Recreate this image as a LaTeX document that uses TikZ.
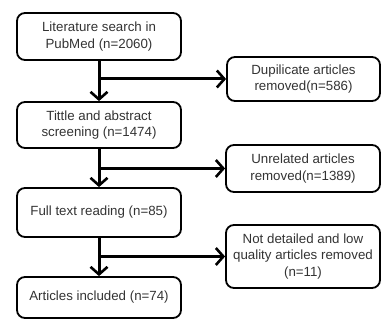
\documentclass[tikz,border=0pt]{standalone}
\usepackage{fontspec}
\setmainfont{Liberation Sans}
\usetikzlibrary{arrows.meta}
\begin{document}
\begin{tikzpicture}[x=1pt,y=1pt,
  box/.style={draw=black,line width=1.8pt,rounded corners=8pt,align=center,inner sep=0pt,
    font=\fontsize{13.3}{16.5}\selectfont,text=black!80},
  flow/.style={line width=3pt,-{Straight Barb[length=7.5pt,width=17pt,line width=2.6pt]}}]
\useasboundingbox (0,0) rectangle (382,320);
\node[box,minimum width=164pt,minimum height=47pt] (a) at (99,283.5) {Literature search in\\PubMed (n=2060)};
\node[box,minimum width=164pt,minimum height=46pt] (b) at (99,195) {Tittle and abstract\\screening (n=1474)};
\node[box,minimum width=164pt,minimum height=49pt] (c) at (99,107.5) {Full text reading (n=85)};
\node[box,minimum width=164pt,minimum height=41pt] (d) at (99,22.5) {Articles included (n=74)};
\node[box,minimum width=153pt,minimum height=44pt] (e) at (303.5,241) {Dupilicate articles\\removed(n=586)};
\node[box,minimum width=154pt,minimum height=47pt] (f) at (303,151.5) {Unrelated articles\\removed(n=1389)};
\node[box,minimum width=154pt,minimum height=63pt] (g) at (303,63.5) {Not detailed and low\\quality articles removed\\(n=11)};
\draw[flow] (a.south) -- (b.north);
\draw[flow] (b.south) -- (c.north);
\draw[flow] (c.south) -- (d.north);
\coordinate (p1) at (a.south |- e.west);
\coordinate (p2) at (b.south |- f.west);
\coordinate (p3) at (c.south |- g.west);
\draw[flow] (p1) -- (e.west);
\draw[flow] (p2) -- (f.west);
\draw[flow] (p3) -- (g.west);
\end{tikzpicture}
\end{document}
